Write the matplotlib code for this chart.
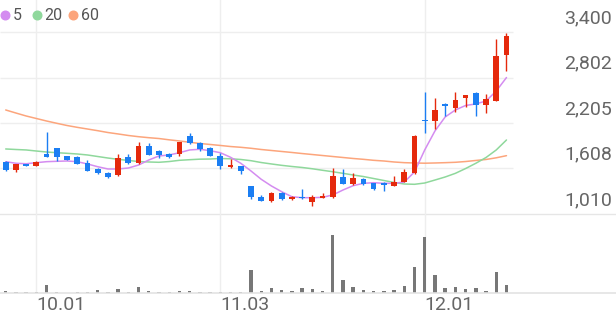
import matplotlib
matplotlib.use("Agg")
import matplotlib.pyplot as plt
from matplotlib.lines import Line2D
import numpy as np

plt.rcParams['font.family'] = ['Roboto', 'DejaVu Sans']

# ---- data ----
opens = [1697, 1588, 1670, 1644, 1794, 1873, 1772, 1755, 1684, 1605,
         1552, 1522, 1755, 1676, 1903, 1841, 1794, 1798, 2038, 1947,
         1873, 1772, 1631, 1640, 1378, 1237, 1181, 1290, 1203, 1227,
         1172, 1224, 1237, 1500, 1400, 1466, 1413, 1413, 1378, 1434,
         1544, 2248, 2235, 2458, 2406, 2537, 2603, 2442, 2494, 3098]
highs = [1706, 1672, 1672, 1700, 2083, 1876, 1775, 1772, 1719, 1608,
         1555, 1794, 1794, 1952, 1947, 1844, 1807, 1956, 2070, 1950,
         1894, 1807, 1728, 1643, 1382, 1260, 1303, 1303, 1250, 1334,
         1260, 1282, 1610, 1597, 1544, 1487, 1416, 1434, 1509, 1601,
         2042, 2608, 2537, 2462, 2616, 2576, 2616, 2582, 3308, 3383]
lows = [1575, 1566, 1638, 1642, 1752, 1710, 1716, 1664, 1575, 1540,
        1479, 1509, 1672, 1663, 1782, 1741, 1749, 1776, 1935, 1837,
        1768, 1597, 1610, 1531, 1203, 1178, 1164, 1200, 1200, 1212,
        1119, 1221, 1216, 1400, 1396, 1396, 1330, 1316, 1374, 1430,
        1540, 2070, 2126, 2301, 2346, 2419, 2297, 2332, 2490, 2892]
closes = [1588, 1670, 1640, 1697, 1763, 1755, 1719, 1667, 1579, 1544,
          1492, 1741, 1676, 1903, 1785, 1785, 1763, 1952, 1938, 1860,
          1772, 1640, 1653, 1575, 1229, 1181, 1282, 1203, 1229, 1214,
          1237, 1250, 1509, 1404, 1487, 1400, 1334, 1391, 1434, 1566,
          2038, 2235, 2376, 2432, 2503, 2573, 2442, 2520, 3085, 3351]
volumes = [17, 10, 7, 7, 77, 7, 5, 7, 13, 27,
           13, 43, 13, 63, 20, 7, 7, 20, 20, 10,
           10, 10, 7, 7, 230, 20, 53, 27, 17, 50,
           43, 20, 577, 133, 57, 33, 17, 17, 27, 73,
           257, 560, 183, 47, 63, 37, 47, 23, 210, 80]
ma5 = [1697, 1676, 1670, 1684, 1697, 1702, 1706, 1697, 1667, 1631,
       1601, 1601, 1614, 1653, 1719, 1772, 1785, 1815, 1851, 1860,
       1841, 1815, 1755, 1676, 1575, 1466, 1378, 1303, 1237, 1224,
       1224, 1229, 1260, 1325, 1382, 1413, 1421, 1413, 1413, 1430,
       1562, 1851, 2100, 2284, 2376, 2435, 2455, 2494, 2625, 2802]
ma20 = [1864, 1857, 1851, 1837, 1824, 1815, 1807, 1798, 1785, 1765,
        1745, 1728, 1713, 1699, 1693, 1689, 1699, 1715, 1723, 1730,
        1732, 1739, 1735, 1726, 1710, 1686, 1667, 1649, 1634, 1621,
        1604, 1584, 1565, 1544, 1522, 1502, 1476, 1450, 1424, 1404,
        1400, 1417, 1456, 1496, 1544, 1607, 1676, 1752, 1851, 1982]
ma60 = [2376, 2336, 2297, 2264, 2231, 2201, 2172, 2148, 2126, 2104,
        2080, 2061, 2041, 2025, 2012, 2001, 1984, 1969, 1952, 1936,
        1923, 1910, 1896, 1886, 1873, 1857, 1844, 1831, 1818, 1804,
        1791, 1778, 1765, 1752, 1739, 1728, 1715, 1706, 1693, 1684,
        1680, 1677, 1680, 1684, 1689, 1699, 1713, 1726, 1748, 1776]
price_ticks = [1010, 1608, 2205, 2802, 3400]
price_labels = ["1,010", "1,608", "2,205", "2,802", "3,400"]
date_ticks = [3, 21, 41]
date_labels = ["10.01", "11.03", "12.01"]
ma_names = ["5", "20", "60"]

# ---- style ----
RED = '#e5290c'
BLUE = '#1b7ef3'
MA_COLORS = ['#d48cf0', '#8fd89c', '#fca57c']
GRID = '#eeeeee'
TXT = '#666666'

W, H = 616, 321
fig = plt.figure(figsize=(W / 100, H / 100), dpi=100)
ax = fig.add_axes([0, (H - 214) / H, 1, 214 / H])
axv = fig.add_axes([0, (H - 293) / H, 1, 79 / H])

n = len(closes)
x = np.arange(n)
xlim = (-5.7 / 10.22, (W - 5.7) / 10.22)
plot_right = 49.6

for a in (ax, axv):
    a.set_xlim(*xlim)
    a.axis('off')
ax.set_ylim(1010, 3820)
axv.set_ylim(0, 790)

# grid
for t in price_ticks[1:]:
    ax.hlines(t, xlim[0], plot_right, color=GRID, lw=1.0, zorder=0)
ax.axhline(price_ticks[0], color='#e6e6e6', lw=1.0, zorder=0, clip_on=False)
for d in date_ticks:
    ax.axvline(d, color=GRID, lw=1.0, zorder=0)
    axv.axvline(d, color=GRID, lw=1.0, zorder=0)
axv.axhline(0, color='#e3e3e3', lw=1.2, zorder=3, clip_on=False)

# MA lines
for vals, c in zip([ma60, ma20, ma5], MA_COLORS[::-1]):
    ax.plot(x, vals, color=c, lw=1.1, zorder=2, solid_capstyle='round')

# candles
bw = 0.56
for i in range(n):
    o, h, l, c = opens[i], highs[i], lows[i], closes[i]
    col = RED if c >= o else BLUE
    ax.vlines(i, l, h, color=col, lw=1.0, zorder=3)
    bot = min(o, c)
    ht = max(abs(c - o), 12)
    ax.bar(i, ht, bottom=bot if abs(c - o) >= 12 else (o + c) / 2 - 6,
           width=bw, color=col, zorder=4, linewidth=0)

# volume
axv.bar(x, volumes, width=0.33, color='#777777', linewidth=0, zorder=2)

# price labels (above gridlines on the right)
for t, lab in zip(price_ticks, price_labels):
    ax.annotate(lab, xy=(1 - 4 / W, t), xycoords=('axes fraction', 'data'),
                xytext=(0, 10), textcoords='offset points',
                ha='right', va='center', fontsize=14, color=TXT)

# date labels
for d, lab in zip(date_ticks, date_labels):
    axv.annotate(lab, xy=(d, 0), xycoords='data', xytext=(0, -9),
                 textcoords='offset points', ha='left', va='center',
                 fontsize=14, color=TXT, annotation_clip=False)

# legend
lx = [5, 37, 73]
tx = [13, 44, 81]
for k in range(3):
    fig.add_artist(Line2D([lx[k] / W], [1 - 15 / H], marker='o', markersize=6.2,
                          color=MA_COLORS[k], linestyle='none',
                          transform=fig.transFigure))
    fig.text(tx[k] / W, 1 - 15 / H, ma_names[k], ha='left', va='center',
             fontsize=11.5, color='#555555')

fig.savefig('out.png', dpi=100)
